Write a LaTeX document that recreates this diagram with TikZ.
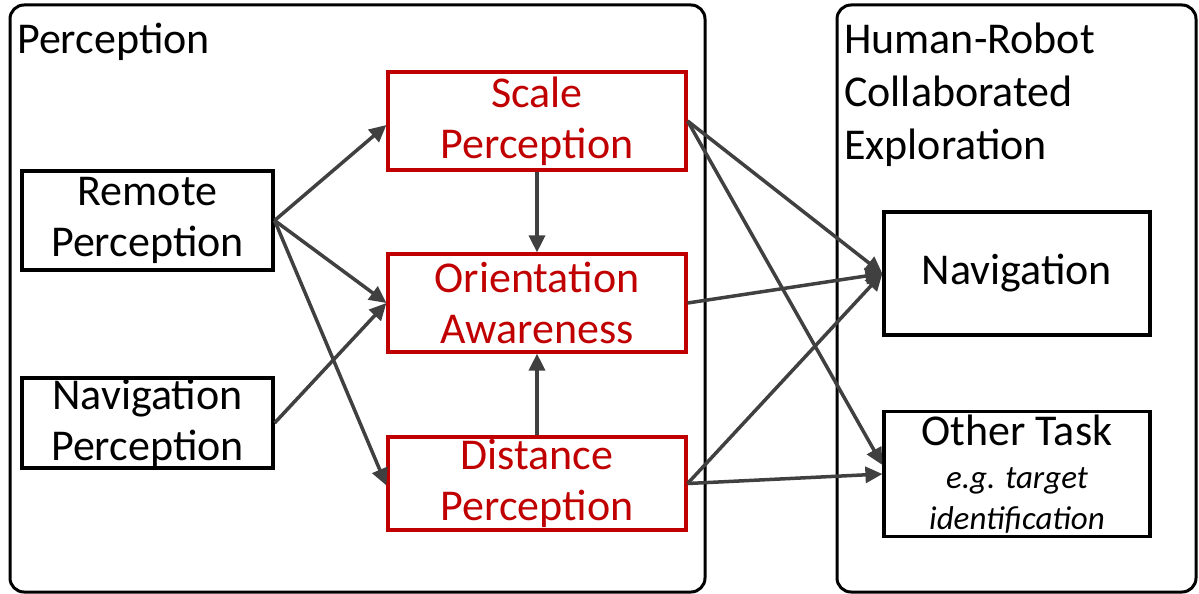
\documentclass[tikz,border=0pt]{standalone}
\usepackage{fontspec}
\setmainfont{Carlito}
\usetikzlibrary{arrows.meta}
\definecolor{boxred}{RGB}{192,0,0}
\definecolor{linegray}{RGB}{64,64,64}
\begin{document}
\begin{tikzpicture}[x=1pt,y=-1pt]
  \useasboundingbox (0,0) rectangle (1199,594);

  % node styles
  \tikzstyle{Frame}=[
  draw,
  line width=3pt,
  rounded corners=14pt,
  inner sep=0pt]

  \tikzstyle{Box}=[
  draw,
  line width=3.2pt,
  align=center,
  inner sep=0pt,
  font=\fontsize{44}{51}\selectfont,
  shape=rectangle]

  \tikzstyle{RedBox}=[Box,draw=boxred,text=boxred]
  \tikzstyle{Title}=[anchor=north west,align=left,inner sep=0pt,
  font=\fontsize{44}{53}\selectfont]
  \tikzstyle{Arrow}=[draw=linegray,line width=3.5pt,
  -{Triangle[length=17pt,width=16pt]}]

  % frames
  \node[Frame,minimum width=695,minimum height=587] (PF) at (357.5,298.5) {};
  \node[Frame,minimum width=359,minimum height=587] (HF) at (1016.5,298.5) {};

  \node[Title] (PT) at (17,23) {Perception};
  \node[Title] (HT) at (844,23) {Human-Robot\\Collaborated\\Exploration};

  % left column
  \node[Box,minimum width=251,minimum height=99] (Remote) at (147.5,220.5) {Remote\\Perception};
  \node[Box,minimum width=251,minimum height=90] (NavP)   at (147.5,423)   {Navigation\\Perception};

  % middle column
  \node[RedBox,minimum width=298,minimum height=98] (Scale)  at (537,121)   {Scale\\Perception};
  \node[RedBox,minimum width=298,minimum height=98] (Orient) at (537,303)   {Orientation\\Awareness};
  \node[RedBox,minimum width=298,minimum height=93] (Dist)   at (537,483.5) {Distance\\Perception};

  % right column
  \node[Box,minimum width=266,minimum height=123] (Nav)   at (1017,273.5) {Navigation};
  \node[Box,minimum width=266,minimum height=125] (Other) at (1017,474)
    {Other Task\\[-8pt]{\fontsize{33}{40}\selectfont\itshape e.g. target}\\[-10pt]{\fontsize{33}{40}\selectfont\itshape identification}};

  % connectors
  \draw[Arrow] (Remote.east) -- ([yshift=-4pt]Scale.west);
  \draw[Arrow] (Remote.east) -- (Orient.west);
  \draw[Arrow] (Remote.east) -- ([yshift=-2pt]Dist.west);
  \draw[Arrow] (NavP.east) -- (Orient.west);

  \draw[Arrow] (Scale.south) -- (Orient.north);
  \draw[Arrow] (Dist.north) -- (Orient.south);

  \draw[Arrow] (Scale.east) -- (Nav.west);
  \draw[Arrow] (Scale.east) -- ([yshift=9pt]Other.west);
  \draw[Arrow] (Orient.east) -- (Nav.west);
  \draw[Arrow] (Dist.east) -- (Nav.west);
  \draw[Arrow] (Dist.east) -- (Other.west);

\end{tikzpicture}
\end{document}
